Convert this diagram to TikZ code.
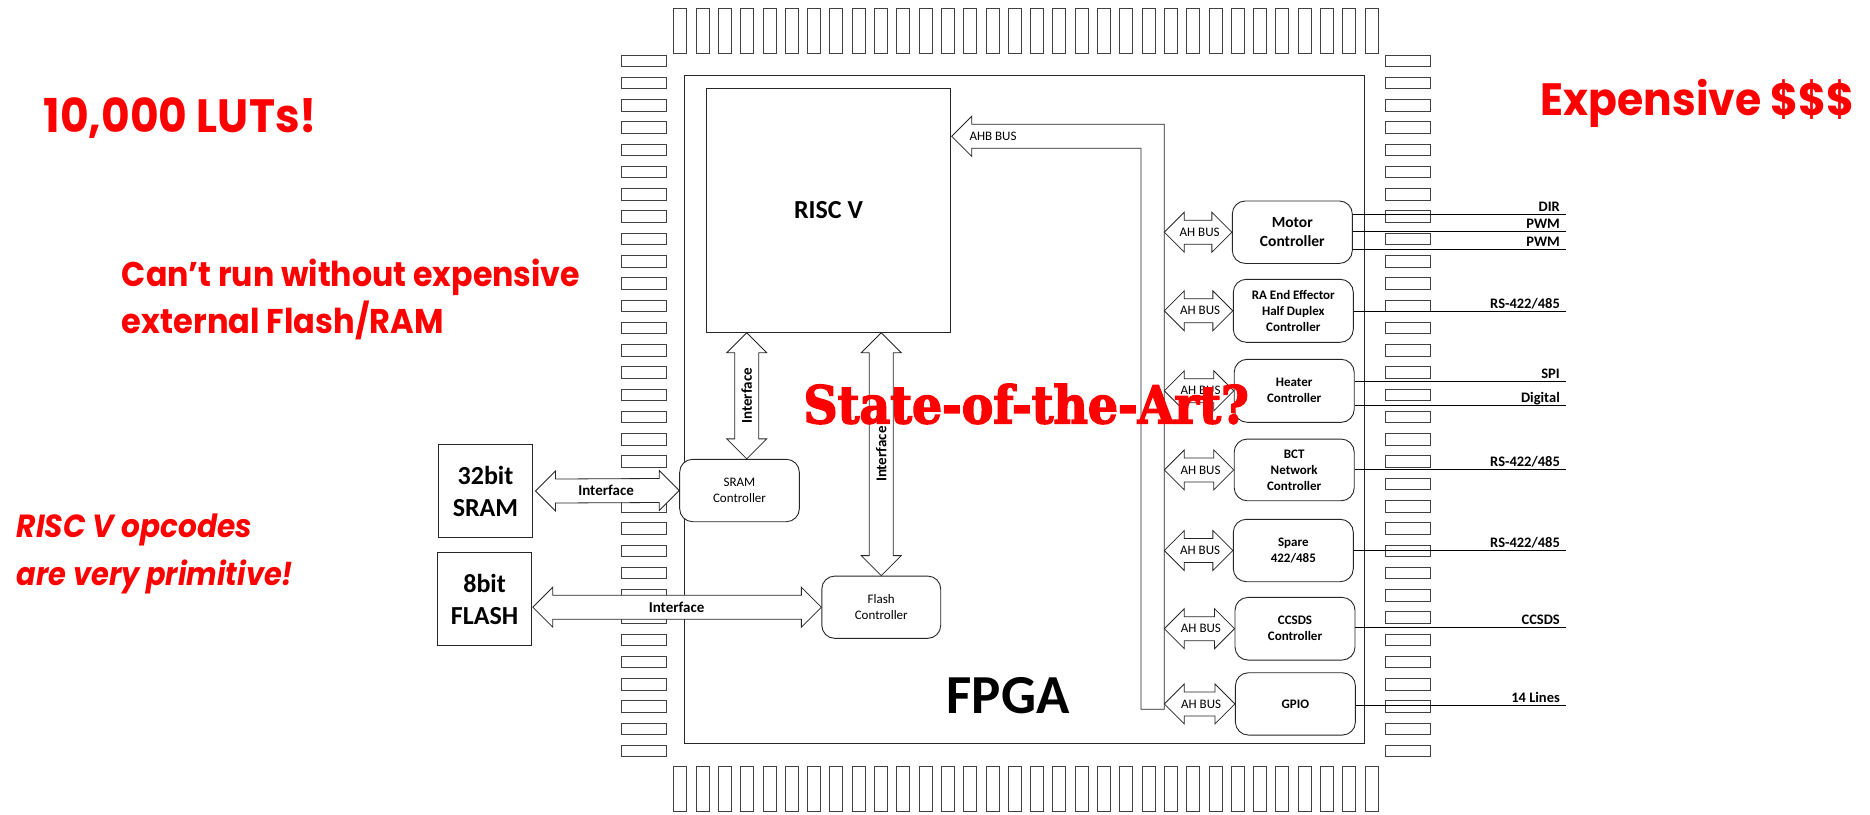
\documentclass[tikz,border=0pt]{standalone}
\usepackage{fontspec}
\usepackage{graphicx}
\setmainfont{Carlito}
\newfontfamily\geofont{Poppins}
\newfontfamily\slabfont{DejaVu Serif}[BoldFeatures={FakeBold=3}]
\usetikzlibrary{calc}

\tikzset{
  pinbox/.style={draw=black!75, line width=0.8pt, fill=white},
  blk/.style={draw=black!85, line width=0.9pt, fill=white, inner sep=0pt, align=center},
  ctrl/.style={blk, rounded corners=13pt, minimum width=120pt, minimum height=62.5pt,
    font=\bfseries\fontsize{13}{16}\selectfont},
  busarrow/.style={draw=black!85, line width=0.8pt, fill=white, line join=miter},
  sig/.style={draw=black, line width=0.9pt},
  siglbl/.style={font=\bfseries\fontsize{14.5}{16}\selectfont, anchor=base east, inner sep=0pt},
  buslbl/.style={font=\fontsize{13}{15}\selectfont, inner sep=0pt},
  iflbl/.style={font=\bfseries\fontsize{15}{17}\selectfont, inner sep=0pt},
  note/.style={text=red, inner sep=0pt, anchor=base west},
}

% horizontal double block arrow between two tips at equal height
\newcommand{\hbus}[2]{%
  \path[busarrow] (#1) -- ++(20,-20) -- ++(0,8) -- ($(#2)+(-20,-12)$) -- ++(0,-8)
    -- (#2) -- ++(-20,20) -- ++(0,-8) -- ($(#1)+(20,12)$) -- ++(0,8) -- cycle;}
% vertical double block arrow, top tip then bottom tip
\newcommand{\vbus}[2]{%
  \path[busarrow] (#1) -- ++(20,20) -- ++(-8,0) -- ($(#2)+(12,-20)$) -- ++(8,0)
    -- (#2) -- ++(-20,-20) -- ++(8,0) -- ($(#1)+(-12,20)$) -- ++(-8,0) -- cycle;}
% output signal leaving a controller
\newcommand{\sigline}[4]{%
  \coordinate (#2) at (1565.5,#3);
  \draw[sig] (#1.east |- #2) -- (#2);
  \node[siglbl] at ([shift={(-5.5,-3)}]#2) {#4};}

\begin{document}
\begin{tikzpicture}[x=1pt, y=-1pt]
\useasboundingbox (0,0) rectangle (1870,814);

% package pins
\foreach \i in {0,...,31} {
  \path[pinbox] (673.7+22.3*\i, 8.5) rectangle ++(13,44.5);
  \path[pinbox] (673.7+22.3*\i, 766) rectangle ++(13,45.7);
  \path[pinbox] (621, 55+22.27*\i) rectangle ++(45,11.5);
  \path[pinbox] (1385.5, 55+22.27*\i) rectangle ++(44.5,11.5);
}

% die outline
\node[blk, minimum width=680.3pt, minimum height=667.7pt, anchor=north west] (fpga) at (684,75) {};
\node[font=\bfseries\fontsize{55}{60}\selectfont, inner sep=0pt, anchor=base] (fpgalbl) at (1008,713) {FPGA};

% processor
\node[blk, minimum width=243.6pt, minimum height=244pt, font=\bfseries\fontsize{26}{30}\selectfont]
  (risc) at (828.5,210.3) {RISC V};

% memory controllers
\node[blk, rounded corners=13pt, minimum width=119.7pt, minimum height=62.4pt,
  font=\fontsize{13}{16.3}\selectfont] (sramc) at (739.5,490.5) {SRAM\\Controller};
\node[blk, rounded corners=13pt, minimum width=118.9pt, minimum height=62.3pt,
  font=\fontsize{13}{16.3}\selectfont] (flashc) at (881.25,607.2) {Flash\\Controller};

% external memories
\node[blk, minimum width=94pt, minimum height=93.4pt, font=\bfseries\fontsize{26}{32}\selectfont]
  (sram) at (485.5,491) {32bit\\SRAM};
\node[blk, minimum width=93.5pt, minimum height=93.4pt, font=\bfseries\fontsize{26}{32}\selectfont]
  (flash) at (484.6,599) {8bit\\FLASH};

% peripheral controllers
\node[ctrl, font=\bfseries\fontsize{15.5}{19}\selectfont] (motor) at (1292.3,232.2) {Motor\\Controller};
\node[ctrl, minimum height=63pt] (ra) at (1293.3,310.8) {RA End Effector\\Half Duplex\\Controller};
\node[ctrl, minimum height=63pt] (heater) at (1294.2,390.8) {Heater\\Controller};
\node[ctrl, minimum height=61.7pt] (bct) at (1294.2,469.9) {BCT\\Network\\Controller};
\node[ctrl, minimum height=62.4pt] (spare) at (1293.3,550.5) {Spare\\422/485};
\node[ctrl, minimum height=62.7pt] (ccsds) at (1295,628.7) {CCSDS\\Controller};
\node[ctrl, minimum height=62.3pt] (gpio) at (1295.4,703.9) {GPIO};

% AHB bus trunk
\coordinate (ahbtip) at (951.7,136.3);
\coordinate (busout) at (1164.3,124.3);
\coordinate (busin) at (1141,148.3);
\coordinate (busend) at (1164.3,709.3);
\path[busarrow] (ahbtip) -- ++(20,-20) -- ++(0,8) -- (busout) -- (busend)
  -- (busin |- busend) -- (busin) -- ($(ahbtip)+(20,12)$) -- ++(0,8) -- cycle;
\node[buslbl] (ahblbl) at (993,136.5) {AHB BUS};

% bus taps to the peripherals
\foreach \c in {motor,ra,heater,bct,spare,ccsds,gpio} {
  \hbus{busout |- \c.west}{\c.west}
  \node[buslbl] at ($(busout |- \c.west)!0.5!(\c.west)+(1.5,0)$) {AH BUS};
}

% memory interfaces
\coordinate (sramtap) at ([xshift=7.2]sramc.north);
\vbus{risc.south -| sramtap}{sramtap}
\node[iflbl, rotate=90] at ($(risc.south -| sramtap)!0.5!(sramtap)$) {Interface};
\vbus{risc.south -| flashc.north}{flashc.north}
\node[iflbl, rotate=90] at ($(risc.south -| flashc.north)!0.5!(flashc.north)$) {Interface};

\hbus{[xshift=2.5]sram.east}{sramc.west}
\node[iflbl] at ($(sram.east)!0.5!(sramc.west)$) {Interface};
\hbus{[xshift=1]flash.east |- flashc.west}{flashc.west}
\node[iflbl] at ($(flash.east |- flashc.west)!0.5!(flashc.west)$) {Interface};

% external signals
\sigline{motor}{dir}{214.3}{DIR}
\sigline{motor}{pwma}{231.7}{PWM}
\sigline{motor}{pwmb}{249.3}{PWM}
\sigline{ra}{rsa}{311.7}{RS-422/485}
\sigline{heater}{spi}{381.3}{SPI}
\sigline{heater}{dig}{405.3}{Digital}
\sigline{bct}{rsb}{469.3}{RS-422/485}
\sigline{spare}{rsc}{550}{RS-422/485}
\sigline{ccsds}{ccs}{627.3}{CCSDS}
\sigline{gpio}{gpl}{705.7}{14 Lines}

% annotations
\node[note, font=\geofont\bfseries\fontsize{46.7}{50}\selectfont] (luts) at (43.3,132.7)
  {\resizebox{273.4pt}{\height}{10,000 LUTs!}};
\node[note, font=\geofont\bfseries\fontsize{45.3}{50}\selectfont] (cost) at (1540.7,115)
  {\resizebox{313.6pt}{\height}{Expensive \$\$\$}};
\node[note, font=\geofont\bfseries\fontsize{34.3}{40}\selectfont] (ext1) at (121.7,286.7)
  {\resizebox{458.3pt}{\height}{Can’t run without expensive}};
\node[note, font=\geofont\bfseries\fontsize{34.3}{40}\selectfont] (ext2) at (121.7,333.3)
  {\resizebox{321.7pt}{\height}{external Flash/RAM}};
\node[note, font=\geofont\bfseries\itshape\fontsize{32}{36}\selectfont] (ops1) at (16.7,537.3)
  {\resizebox{235pt}{\height}{RISC V opcodes}};
\node[note, font=\geofont\bfseries\itshape\fontsize{32}{36}\selectfont] (ops2) at (16.7,585)
  {\resizebox{276.3pt}{\height}{are very primitive!}};
\node[note, font=\slabfont\bfseries\fontsize{52}{56}\selectfont] (sota) at (803.3,423.3)
  {\resizebox{445.3pt}{\height}{State-of-the-Art?}};
\end{tikzpicture}
\end{document}
